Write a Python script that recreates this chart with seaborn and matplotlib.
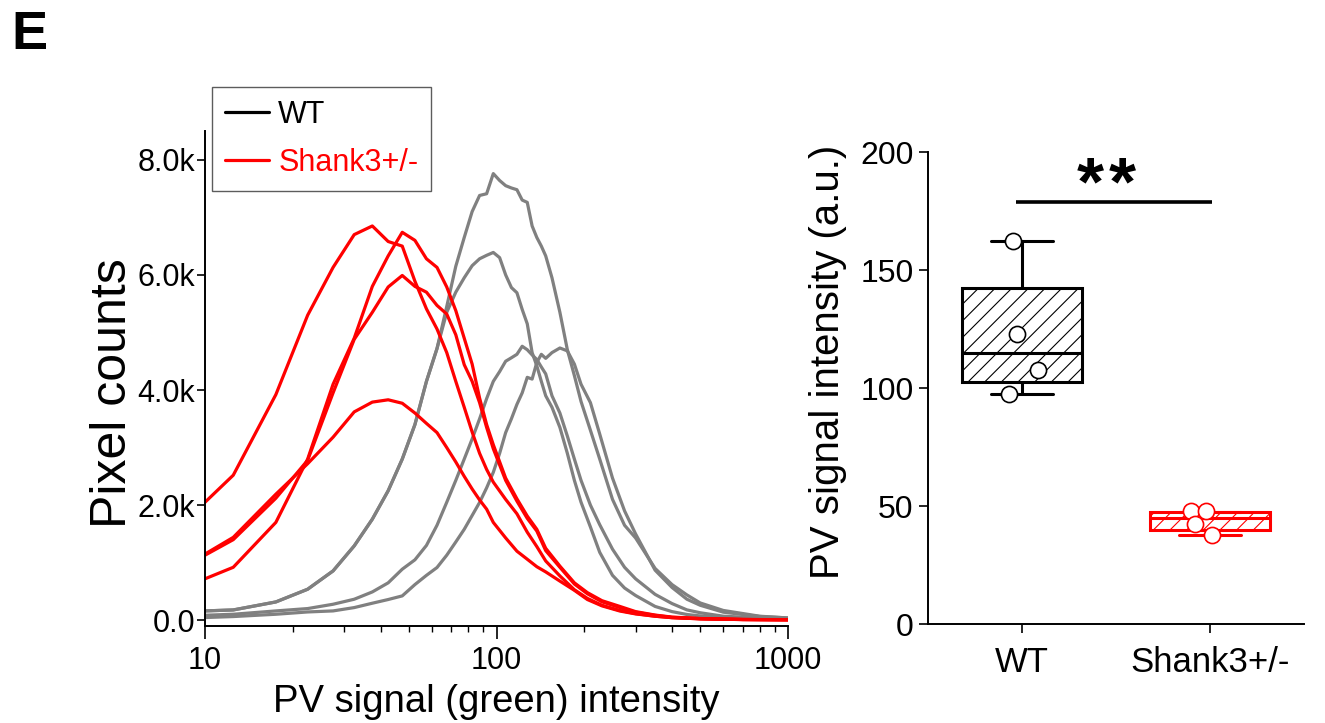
"""Panel E: PV pixel-intensity histograms and per-animal mean intensity."""

import matplotlib.pyplot as plt
import numpy as np
import pandas as pd
import seaborn as sns
from matplotlib.lines import Line2D
from matplotlib.ticker import FuncFormatter, LogLocator, NullFormatter

# ---- histogram data (pixel counts per intensity bin, one curve per animal) ----
x_wt = [10, 12.5, 17.5, 22.5, 27.5, 32.5, 37.5, 42.5, 47.5, 52.5, 57.5, 62.5, 67.5,
        72.5, 77.5, 82.5, 87.5, 92.5, 97.5, 102.5, 107.5, 112.5, 117.5, 122.5, 127.5,
        132.5, 137.5, 142.5, 147.5, 155, 165, 175, 185, 195, 210, 226, 250, 275, 300,
        350, 400, 450, 500, 600, 800, 1000]
wt_1 = [162, 179, 318, 539, 857, 1292, 1756, 2250, 2800, 3400, 4150, 4720, 5450,
        6150, 6650, 7100, 7380, 7410, 7760, 7640, 7550, 7510, 7480, 7300, 7260,
        6850, 6650, 6500, 6330, 5950, 5350, 4700, 4250, 3800, 3300, 2800, 2100, 1650, 1430,
        900, 620, 440, 300, 170, 70, 40]
wt_2 = [162, 179, 318, 539, 857, 1292, 1756, 2250, 2800, 3400, 4150, 4720, 5350,
        5700, 5950, 6160, 6280, 6340, 6390, 6300, 6000, 5780, 5690, 5400, 5150,
        4650, 4420, 4150, 3900, 3700, 3350, 2900, 2430, 2050, 1620, 1180, 780, 560, 430,
        240, 150, 100, 75, 45, 28, 18]
wt_3 = [87, 104, 162, 203, 278, 365, 492, 650, 887, 1050, 1300, 1650, 2050,
        2430, 2800, 3150, 3500, 3850, 4150, 4320, 4500, 4560, 4620, 4760, 4700,
        4610, 4530, 4400, 4280, 3900, 3600, 3200, 2800, 2430, 2000, 1660, 1235, 920, 720,
        450, 290, 180, 130, 70, 40, 29]
wt_4 = [47, 64, 104, 144, 162, 220, 296, 360, 423, 620, 780, 916, 1130,
        1360, 1580, 1820, 2047, 2300, 2570, 2900, 3260, 3500, 3750, 3950, 4220,
        4190, 4480, 4620, 4550, 4650, 4730, 4680, 4450, 4100, 3780, 3235, 2470, 1900, 1500,
        870, 570, 365, 260, 140, 65, 40]

x_ko = [10, 12.5, 17.5, 22.5, 27.5, 32.5, 37.5, 42.5, 47.5, 52.5, 57.5, 62.5, 67.5,
        72.5, 77.5, 82.5, 87.5, 92.5, 97.5, 107.5, 117.5, 127.5, 137.5, 147.5, 165, 185,
        205, 230, 265, 300, 350, 400, 500, 700, 1000]
ko_1 = [2050, 2520, 3920, 5300, 6130, 6700, 6850, 6580, 6500, 5890, 5410, 5060, 4650,
        4150, 3700, 3270, 2900, 2620, 2400, 2100, 1850, 1530, 1280, 1030, 770, 530,
        380, 260, 170, 115, 70, 45, 25, 12, 8]
ko_2 = [720, 920, 1700, 2800, 4100, 4900, 5800, 6330, 6740, 6600, 6280, 6130, 5790,
        5380, 4900, 4450, 3860, 3400, 3050, 2470, 2110, 1810, 1580, 1250, 940, 650,
        480, 340, 240, 150, 90, 55, 30, 14, 8]
ko_3 = [1130, 1400, 2120, 2780, 3950, 4880, 5350, 5790, 5990, 5800, 5700, 5470, 5320,
        4960, 4440, 4150, 3780, 3350, 2980, 2430, 2070, 1770, 1550, 1210, 920, 630,
        460, 320, 220, 140, 85, 50, 28, 13, 8]
ko_4 = [1150, 1440, 2190, 2720, 3180, 3620, 3790, 3830, 3770, 3600, 3420, 3260, 3000,
        2750, 2500, 2280, 2090, 1930, 1700, 1430, 1200, 1060, 930, 840, 680, 520,
        360, 250, 160, 110, 70, 45, 25, 12, 8]

# ---- per-animal mean PV intensity ----
groups = ['WT', 'Shank3+/-']
wt_means = [162.3, 122.7, 107.7, 97.6]
ko_means = [47.8, 47.8, 42.5, 37.8]
# box statistics as drawn in the original figure
box_q1 = [102.6, 40.0]
box_med = [114.8, 45.0]
box_q3 = [142.5, 47.5]
box_lo = [97.5, 37.8]
box_hi = [162.5, 47.5]
significance = '**'

GRAY = '#808080'
RED = '#ff0000'
point_offsets = [[-0.05, -0.025, 0.085, -0.07], [-0.10, -0.02, -0.08, 0.012]]


def _long_frame():
    rows = []
    for name, xs, ys in [('WT1', x_wt, wt_1), ('WT2', x_wt, wt_2),
                         ('WT3', x_wt, wt_3), ('WT4', x_wt, wt_4)]:
        rows += [(name, 'WT', x, y) for x, y in zip(xs, ys)]
    for name, xs, ys in [('KO1', x_ko, ko_1), ('KO2', x_ko, ko_2),
                         ('KO3', x_ko, ko_3), ('KO4', x_ko, ko_4)]:
        rows += [(name, 'Shank3+/-', x, y) for x, y in zip(xs, ys)]
    return pd.DataFrame(rows, columns=['animal', 'genotype', 'intensity', 'count'])


def _draw_histograms(ax, fig):
    df = _long_frame()
    ax.set_xscale('log')
    sns.lineplot(data=df, x='intensity', y='count', hue='genotype', units='animal',
                 estimator=None, palette={'WT': GRAY, 'Shank3+/-': RED},
                 hue_order=['WT', 'Shank3+/-'], linewidth=2.3, legend=False, ax=ax)
    ax.set_xlim(10, 1000)
    ax.set_ylim(-100, 8500)
    ax.set_xticks([10, 100, 1000], ['10', '100', '1000'])
    ax.xaxis.set_minor_locator(LogLocator(base=10, subs=np.arange(2, 10)))
    ax.xaxis.set_minor_formatter(NullFormatter())
    ax.set_yticks([0, 2000, 4000, 6000, 8000])
    ax.yaxis.set_major_formatter(FuncFormatter(lambda v, _: '0.0' if v == 0 else f'{v / 1000:.1f}k'))
    ax.tick_params(axis='y', which='major', length=6, width=1.2, labelsize=22, pad=1)
    ax.tick_params(axis='x', which='major', length=9.5, width=1.2, labelsize=22, pad=5)
    ax.tick_params(axis='x', which='minor', length=4.5, width=1.0)
    ax.set_xlabel('PV signal (green) intensity', fontsize=27.5)
    ax.set_ylabel('Pixel counts', fontsize=36)
    ax.xaxis.set_label_coords(0.5, -0.118)
    ax.yaxis.set_label_coords(-0.118, 0.47)
    sns.despine(ax=ax)

    handles = [Line2D([], [], color='black', lw=2.3), Line2D([], [], color=RED, lw=2.3)]
    leg = fig.legend(handles, groups, loc='upper left', bbox_to_anchor=(212 / 1325, 1 - 87 / 723),
                     fontsize=22, labelcolor=['black', RED], frameon=True, fancybox=False,
                     edgecolor='#333333', handlelength=1.45, handletextpad=0.3,
                     borderpad=0.42, labelspacing=0.6, borderaxespad=0)
    leg.get_frame().set_linewidth(1.0)


def _draw_boxes(ax):
    colors = ['black', RED]
    for i, (g, c) in enumerate(zip(groups, colors)):
        stats = [dict(label=g, q1=box_q1[i], med=box_med[i], q3=box_q3[i],
                      whislo=box_lo[i], whishi=box_hi[i], fliers=[])]
        ax.bxp(stats, positions=[i], widths=0.64, capwidths=0.325, patch_artist=True,
               showfliers=False, manage_ticks=False,
               boxprops=dict(facecolor='white', edgecolor=c, hatch='//', linewidth=2.2),
               medianprops=dict(color=c, linewidth=2.2),
               whiskerprops=dict(color=c, linewidth=2.2),
               capprops=dict(color=c, linewidth=2.2))
    for i, (vals, c) in enumerate(zip([wt_means, ko_means], colors)):
        xs = [i + o for o in point_offsets[i]]
        sns.scatterplot(x=xs, y=vals, color='white', edgecolor=c, s=135, linewidth=1.2,
                        zorder=5, ax=ax, legend=False)

    ax.plot([-0.03, 1.01], [179, 179], color='black', lw=2.6, solid_capstyle='butt')
    for k, star in enumerate(significance):
        ax.text(0.362 + 0.17 * k, 172, star, ha='center', va='bottom',
                fontsize=50, fontweight='bold')

    ax.set_xlim(-0.5, 1.5)
    ax.set_ylim(0, 200)
    ax.set_xticks([0, 1], groups)
    ax.set_yticks([0, 50, 100, 150, 200])
    ax.tick_params(axis='x', length=6.5, width=1.2, labelsize=25, pad=9)
    ax.tick_params(axis='y', length=6.5, width=1.2, labelsize=23, pad=4)
    ax.set_ylabel('PV signal intensity (a.u.)', fontsize=29)
    ax.yaxis.set_label_coords(-0.215, 0.555)
    ax.set_xlabel('')
    sns.despine(ax=ax)


def main():
    sns.set_style('ticks')
    plt.rcParams['font.family'] = ['Liberation Sans', 'DejaVu Sans']
    plt.rcParams['axes.linewidth'] = 1.4
    plt.rcParams['hatch.linewidth'] = 0.8
    plt.rcParams['xtick.direction'] = 'out'
    plt.rcParams['ytick.direction'] = 'out'
    for key in ['text.color', 'axes.labelcolor', 'axes.edgecolor', 'xtick.color', 'ytick.color']:
        plt.rcParams[key] = 'black'

    fig = plt.figure(figsize=(13.25, 7.23), dpi=100)
    ax_hist = fig.add_axes([205 / 1325, 1 - 626 / 723, 583 / 1325, 495 / 723])
    ax_box = fig.add_axes([928 / 1325, 1 - 624 / 723, 376 / 1325, 472 / 723])

    _draw_histograms(ax_hist, fig)
    _draw_boxes(ax_box)

    fig.text(11 / 1325, 1 - 10 / 723, 'E', ha='left', va='top', fontsize=39, fontweight='bold')
    fig.savefig('out.png', dpi=100)
    plt.close(fig)


if __name__ == '__main__':
    main()
